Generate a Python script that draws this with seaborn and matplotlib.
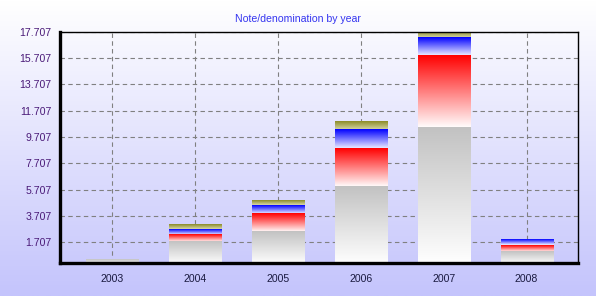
import numpy as np
import pandas as pd
import matplotlib
matplotlib.use("Agg")
import matplotlib.pyplot as plt
import seaborn as sns
from matplotlib.colors import to_rgb

# values
years = ["2003", "2004", "2005", "2006", "2007", "2008"]
gray_part = [0.33, 1.70, 2.47, 5.89, 10.38, 0.98]
red_part = [0.0, 0.54, 1.37, 2.89, 5.48, 0.49]
blue_part = [0.0, 0.45, 0.68, 1.45, 1.37, 0.39]
olive_part = [0.0, 0.31, 0.38, 0.61, 0.477, 0.07]

y_ticks = [1.707, 3.707, 5.707, 7.707, 9.707, 11.707, 13.707, 15.707, 17.707]

# (name, top colour, bottom colour) for the gradient fill of each stack piece
segments = [
    ("gray", "#c2c2c2", "#ffffff"),
    ("red", "#ff0000", "#ffffff"),
    ("blue", "#0000ff", "#f4f4ff"),
    ("olive", "#8c8c26", "#d8d8ac"),
]

sns.set_style("white")
plt.rcParams["font.family"] = ["Liberation Sans", "DejaVu Sans"]

fig = plt.figure(figsize=(5.96, 2.96), dpi=100)

# page background: white at top fading to lavender at the bottom
bg = fig.add_axes([0, 0, 1, 1])
bg.axis("off")
t = np.linspace(0, 1, 256)[:, None]
top_c = np.array([1.0, 1.0, 1.0])
bot_c = np.array([196, 196, 252]) / 255
bg_img = (top_c * (1 - t) + bot_c * t)[:, None, :]
bg.imshow(bg_img, aspect="auto", extent=[0, 1, 0, 1])
bg.set_xlim(0, 1)
bg.set_ylim(0, 1)

ax = fig.add_axes([0.1007, 0.1105, 0.8691, 0.7825])
ax.patch.set_alpha(0)

df = pd.DataFrame({"year": years, "gray": gray_part, "red": red_part,
                   "blue": blue_part, "olive": olive_part})
names = [s[0] for s in segments]
cum = df[names].cumsum(axis=1)

grad = np.linspace(0, 1, 200)[:, None]
bar_width = 0.63

for k in range(len(segments) - 1, -1, -1):
    name, top_col, bot_col = segments[k]
    n_before = len(ax.patches)
    sns.barplot(x=df["year"], y=cum[name], ax=ax, width=bar_width,
                color="white", saturation=1, errorbar=None, linewidth=0)
    new_patches = ax.patches[n_before:]
    lo_vals = cum[names[k - 1]] if k > 0 else np.zeros(len(years))
    c_top = np.array(to_rgb(top_col))
    c_bot = np.array(to_rgb(bot_col))
    img = (c_bot * (1 - grad) + c_top * grad)[:, None, :]
    for i, p in enumerate(new_patches):
        p.set_alpha(0)
        lo = lo_vals[i]
        hi = p.get_height()
        if hi - lo <= 0:
            continue
        x0 = p.get_x()
        ax.imshow(img, origin="lower", aspect="auto", interpolation="bilinear",
                  extent=[x0, x0 + p.get_width(), lo, hi], zorder=2)

ax.set_xlim(-0.63, 5.62)
ax.set_ylim(0.1, 17.707)
ax.set_aspect("auto")

ax.set_yticks(y_ticks)
ax.set_yticklabels([f"{v:.3f}" for v in y_ticks])
minor_y = [v for v in np.arange(0.207, 17.707, 0.5) if round(v, 3) not in y_ticks]
ax.set_yticks(minor_y, minor=True)
ax.set_xticks(range(len(years)))
ax.set_xticklabels(years)
minor_x = [i + f for i in range(len(years) - 1) for f in (0.25, 0.5, 0.75)]
ax.set_xticks(minor_x, minor=True)

ax.tick_params(axis="y", which="major", direction="out", length=4, width=1,
               colors="black", labelsize=7.6, labelcolor="#4a1a78", pad=2)
ax.tick_params(axis="y", which="minor", direction="out", length=2, width=1,
               colors="black")
ax.tick_params(axis="x", which="major", direction="out", length=5, width=1,
               colors="black", labelsize=7.6, labelcolor="#1a1a40", pad=3)
ax.tick_params(axis="x", which="minor", direction="out", length=3, width=1,
               colors="black")

ax.set_axisbelow(True)
ax.grid(True, which="major", color="#808080", linewidth=0.8,
        linestyle=(0, (4, 3)))
ax.set_xlabel("")
ax.set_ylabel("")

for side in ["top", "right"]:
    ax.spines[side].set_visible(True)
    ax.spines[side].set_color("black")
    ax.spines[side].set_linewidth(1)
for side in ["left", "bottom"]:
    ax.spines[side].set_color("black")
    ax.spines[side].set_linewidth(2.4)

fig.text(0.5, 0.936, "Note/denomination by year", ha="center", va="center",
         fontsize=7.6, color="#3535f0")

fig.savefig("out.png", dpi=100)
